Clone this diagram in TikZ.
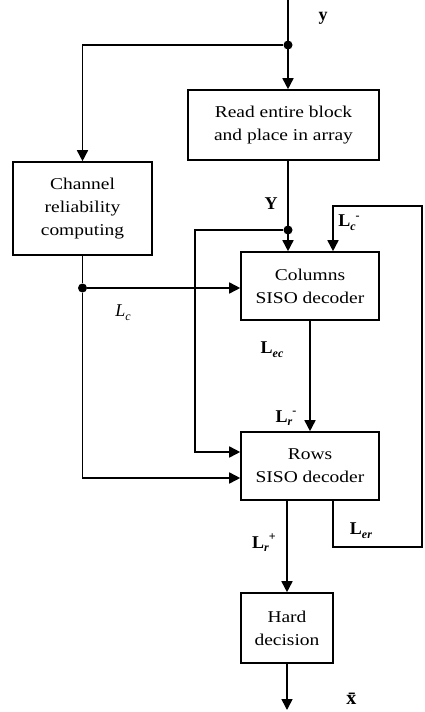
\documentclass[tikz,border=0pt]{standalone}
\usepackage{fontspec}
\setmainfont{Liberation Serif}
\newfontfamily\boxfont[FakeStretch=1.18]{Liberation Serif}
\usetikzlibrary{arrows.meta}
\newcommand{\Lbl}[2]{\textbf{L}\raisebox{-0.45ex}{\fontsize{12}{12}\selectfont\textbf{\textit{#1}}}\raisebox{0.9ex}{\fontsize{12}{12}\selectfont\textbf{#2}}}
\begin{document}
\begin{tikzpicture}[x=1pt,y=-1pt,
  blk/.style={draw,line width=1.6pt,rectangle,align=center,inner sep=0pt,font=\boxfont\fontsize{16.5}{23}\selectfont},
  arr/.style={line width=1.6pt,-{Triangle[length=11pt,width=11pt]}},
  ln/.style={line width=1.6pt},
  dot/.style={circle,fill,inner sep=0pt,minimum size=9pt},
  lab/.style={font=\fontsize{18}{18}\selectfont}]
\useasboundingbox (0,0) rectangle (424,712);
\node[blk,minimum width=191pt,minimum height=70pt] (read) at (283.5,125) {Read entire block\\and place in array};
\node[blk,minimum width=139pt,minimum height=93pt] (chan) at (82.5,208.5) {Channel\\reliability\\computing};
\node[blk,minimum width=138pt,minimum height=68pt] (cols) at (310,286) {Columns\\SISO decoder};
\node[blk,minimum width=138pt,minimum height=68pt] (rows) at (310,466) {Rows\\SISO decoder};
\node[blk,minimum width=92pt,minimum height=70pt] (hard) at (287,628) {Hard\\decision};
\coordinate (ytop) at (288,0);
\node[dot] (d1) at (288,45) {};
\node[dot] (d2) at (288,230) {};
\node[dot] (d3) at (82.5,288) {};
\coordinate (lA) at (195,230);
\coordinate (lB) at (195,452);
\coordinate (cB) at (82.5,478);
\coordinate (fb1) at (333,206);
\coordinate (fb2) at (422,206);
\coordinate (fb3) at (422,547);
\coordinate (fb4) at (333,547);
\coordinate (xend) at (287,710);
\draw[arr] (ytop) -- (read.north -| ytop);
\draw[arr] (d1) -| (chan.north);
\draw[arr] (read.south -| d2) -- (cols.north -| d2);
\draw[arr] (d2) -- (lA) -- (lB) -- (lB -| rows.west);
\draw[ln] (chan.south) -- (d3);
\draw[arr] (d3) -- (d3 -| cols.west);
\draw[arr] (d3) -- (cB) -- (cB -| rows.west);
\draw[arr] (cols.south) -- (rows.north);
\draw[arr] (rows.south -| fb4) -- (fb4) -- (fb3) -- (fb2) -- (fb1) -- (cols.north -| fb1);
\draw[arr] (rows.south -| hard) -- (hard.north);
\draw[arr] (hard.south) -- (xend);
\node[lab] (ly) at (323,18) {\textbf{y}};
\node[lab] (lY) at (271,204) {\textbf{Y}};
\node[lab] (lLc) at (123,313) {\textit{L}\raisebox{-0.45ex}{\fontsize{12}{12}\selectfont\textit{c}}};
\node[lab] (lLec) at (272,350) {\Lbl{ec}{}};
\node[lab] (lLrm) at (286,418) {\Lbl{r}{-}};
\node[lab] (lLcm) at (349,223) {\Lbl{c}{-}};
\node[lab] (lLer) at (361,531) {\Lbl{er}{}};
\node[lab] (lLrp) at (264,543) {\Lbl{r}{+}};
\node[lab] (lx) at (353,699) {\fontsize{20}{20}\selectfont\textbf{\={x}}};
\end{tikzpicture}
\end{document}
